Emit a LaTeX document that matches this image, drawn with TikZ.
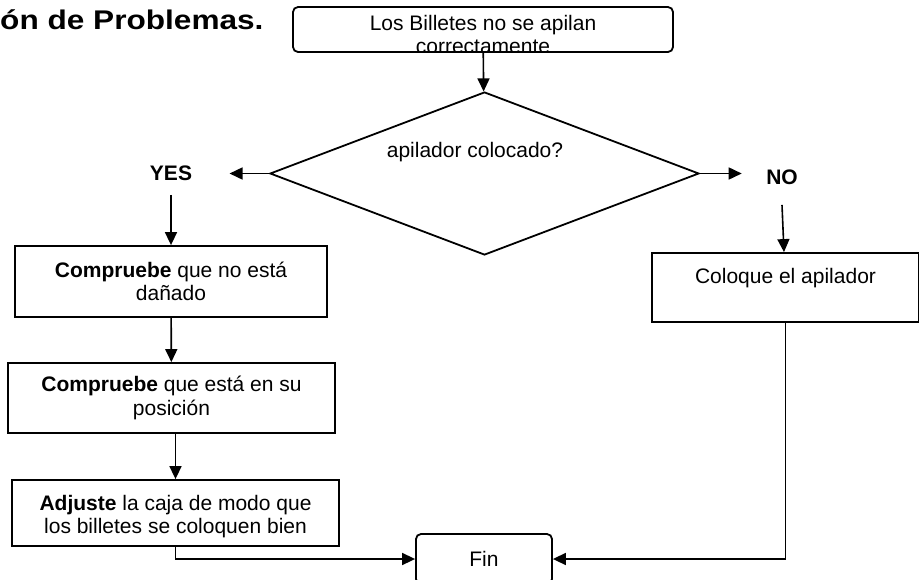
\documentclass[tikz,border=0pt]{standalone}
\usepackage{fontspec}
\setmainfont{Liberation Sans}
\newfontfamily\titlefont[FakeStretch=1.17]{Liberation Sans}
\usetikzlibrary{shapes.geometric, arrows.meta}
\newcommand{\boxfont}{\fontsize{21}{23.5}\selectfont}
\tikzstyle{startstop} = [rectangle, rounded corners=5pt, draw=black, line width=1.8pt, fill=white]
\tikzstyle{process} = [rectangle, draw=black, line width=1.8pt, fill=white, align=center, font=\boxfont]
\tikzstyle{decision} = [diamond, draw=black, line width=1.8pt, aspect=2.6, font=\boxfont]
\tikzstyle{answer} = [font=\boxfont\bfseries]
\tikzstyle{arrow} = [line width=1.6pt, -{Triangle[length=13pt,width=12pt]}]
\tikzset{cliptext/.style 2 args={path picture={\node[align=center, font=\boxfont] at ([yshift=#1]path picture bounding box.center) {#2};}}}

\begin{document}
\begin{tikzpicture}[x=1pt, y=-1pt]
\useasboundingbox (0,0) rectangle (919,579);
\node (title) [anchor=base west, inner sep=0pt, font=\titlefont\bfseries\fontsize{27}{29}\selectfont] at (0,29) {ón de Problemas.};
\node (start) [startstop, minimum width=380pt, minimum height=45pt, cliptext={-5pt}{Los Billetes no se apilan\\correctamente}] at (483,29.5) {};
\node (decision) [decision, minimum width=429pt, minimum height=163pt] at (484.5,173.5) {\raisebox{16pt}[0pt][0pt]{\hspace*{-19pt}apilador colocado?}};
\node (yes) [answer] at (171,173) {YES};
\node (no) [answer] at (782,177) {NO};
\node (check1) [process, minimum width=312pt, minimum height=71pt] at (171,281.5) {\textbf{Compruebe} que no está\\dañado};
\node (check2) [process, minimum width=327pt, minimum height=70pt] at (171.5,398) {\textbf{Compruebe} que está en su\\posición};
\node (adjust) [process, minimum width=327pt, minimum height=66pt, cliptext={-3.5pt}{\textbf{Adjuste} la caja de modo que\\los billetes se coloquen bien}] at (175.5,513) {};
\node (place) [process, minimum width=267pt, minimum height=69pt] at (785.5,287.5) {Coloque el apilador\\~};
\node (fin) [startstop, minimum width=136pt, minimum height=50pt, font=\boxfont] at (484,559) {Fin};
\draw [arrow] (start) -- (decision);
\draw [arrow] (decision.west) -- ([xshift=34pt]yes.east |- decision.west);
\draw [arrow] (decision.east) -- ([xshift=-21pt]no.west |- decision.east);
\draw [arrow] ([yshift=-11pt]yes.south) -- (check1);
\draw [arrow] ([yshift=-17pt]no.south) -- (place);
\draw [arrow] (check1) -- (check2);
\draw [arrow] (check2.south -| adjust.north) -- (adjust);
\draw [arrow] (adjust.south) |- (fin.west);
\draw [arrow] (place.south) |- (fin.east);
\end{tikzpicture}
\end{document}
